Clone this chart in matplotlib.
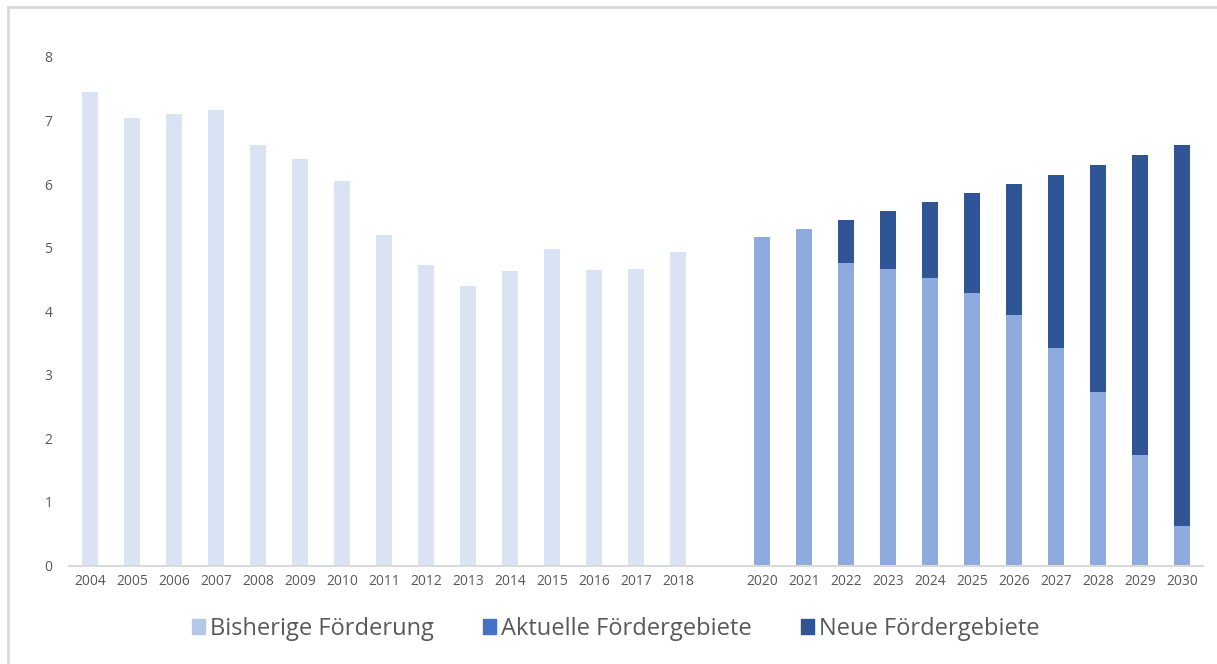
import numpy as np
import matplotlib
matplotlib.use("Agg")
import matplotlib.pyplot as plt
from matplotlib.patches import Patch
from matplotlib.lines import Line2D

plt.rcParams['font.family'] = ['Open Sans', 'DejaVu Sans']

# x-axis categories (2019 is left empty in the original chart)
years = ['2004', '2005', '2006', '2007', '2008', '2009', '2010', '2011', '2012',
         '2013', '2014', '2015', '2016', '2017', '2018', '',
         '2020', '2021', '2022', '2023', '2024', '2025', '2026', '2027',
         '2028', '2029', '2030']

# historic values 2004-2018
historie = [7.45, 7.04, 7.10, 7.17, 6.62, 6.40, 6.05, 5.20, 4.73,
            4.40, 4.63, 4.98, 4.65, 4.66, 4.93]

# projection 2020-2030
bisherige = [5.17, 5.30, 4.76, 4.67, 4.52, 4.29, 3.94, 3.42, 2.73, 1.74, 0.62]
aktuelle = [0, 0, 0, 0, 0, 0, 0, 0, 0, 0, 0]
gesamt = [5.17, 5.30, 5.44, 5.58, 5.72, 5.86, 6.00, 6.14, 6.30, 6.46, 6.62]

legend_labels = ['Bisherige Förderung', 'Aktuelle Fördergebiete', 'Neue Fördergebiete']

c_hist = '#dae3f3'
c_bish = '#8faadc'
c_akt = '#4472c4'
c_neu = '#2f5597'
c_leg_bish = '#b4c7e7'
grey = '#595959'

x = np.arange(len(years))
x_hist = x[:len(historie)]
x_proj = x[len(historie) + 1:]
bisherige = np.array(bisherige)
aktuelle = np.array(aktuelle)
neue = np.array(gesamt) - bisherige - aktuelle

fig = plt.figure(figsize=(12.17, 6.64), dpi=100)
ax = fig.add_axes([0.0567, 0.1483, 0.9318, 0.7659])

w = 0.4
ax.bar(x_hist, historie, width=w, color=c_hist, zorder=2)
ax.bar(x_proj, bisherige, width=w, color=c_bish, zorder=2)
ax.bar(x_proj, aktuelle, width=w, bottom=bisherige, color=c_akt, zorder=2)
ax.bar(x_proj, neue, width=w, bottom=bisherige + aktuelle, color=c_neu, zorder=2)

ax.set_xlim(-0.5, len(years) - 0.5)
ax.set_ylim(0, 8)
ax.set_yticks(range(0, 9))
ax.set_xticks(x)
ax.set_xticklabels(years)
ax.tick_params(axis='both', length=0, colors=grey, labelsize=10)
ax.tick_params(axis='y', pad=12)
ax.tick_params(axis='x', pad=6)
for s in ['top', 'right', 'left']:
    ax.spines[s].set_visible(False)
ax.spines['bottom'].set_color('#d9d9d9')
ax.spines['bottom'].set_linewidth(1.5)

handles = [Patch(color=c_leg_bish), Patch(color=c_akt), Patch(color=c_neu)]
leg = fig.legend(handles, legend_labels, loc='center', bbox_to_anchor=(0.506, 0.053),
                 ncol=3, frameon=False, fontsize=17, handlelength=0.55, handleheight=0.55,
                 handletextpad=0.2, columnspacing=2.1)
for t in leg.get_texts():
    t.set_color(grey)

# light frame around the chart area (top and left edge)
fig.add_artist(Line2D([8 / 1217, 1], [1 - 6.5 / 664, 1 - 6.5 / 664], color='#d9d9d9', lw=2,
                      transform=fig.transFigure))
fig.add_artist(Line2D([8 / 1217, 8 / 1217], [0, 1 - 6.5 / 664], color='#d9d9d9', lw=2,
                      transform=fig.transFigure))

fig.savefig('out.png', dpi=100)
